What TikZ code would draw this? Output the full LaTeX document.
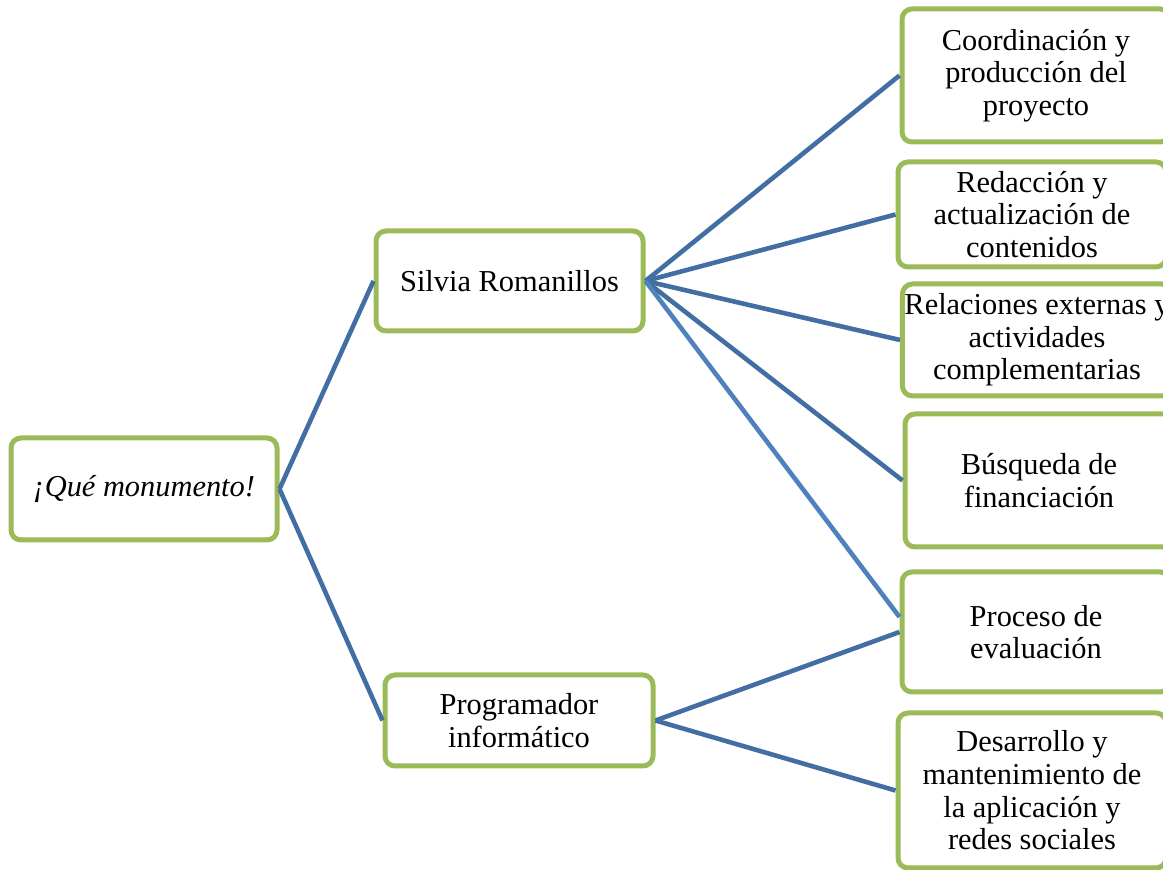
\documentclass[tikz,border=0pt]{standalone}
\usepackage{fontspec}
\setmainfont{Liberation Serif}
\definecolor{boxgreen}{HTML}{9BBB59}
\definecolor{linkblue}{HTML}{436EA4}
\definecolor{lightblue}{HTML}{4F81BD}

\begin{document}
\begin{tikzpicture}[x=0.5pt, y=-0.5pt,
    box/.style = {draw=boxgreen, line width=2.5pt, rounded corners=5pt, fill=white, align=center, minimum width=134pt, font=\fontsize{15.2}{16.3}\selectfont},
    link/.style = {draw=linkblue, line width=2.3pt}]
        \useasboundingbox (0,0) rectangle (1163,870);
        \clip (0,0) rectangle (1163,870);

        \node[box, minimum width=133pt, minimum height=51pt] (root) at (144,489) {\itshape ¡Qué monumento!};
        \node[box, minimum width=133.5pt, minimum height=50pt] (silvia) at (509.5,281) {Silvia Romanillos};
        \node[box, minimum height=45.5pt] (prog) at (519,720.5) {Programador\\informático};

        \node[box, minimum height=66.5pt] (coord) at (1036,75.5) {Coordinación y\\producción del\\proyecto};
        \node[box, minimum height=52.5pt] (redac) at (1032,214.5) {Redacción y\\actualización de\\contenidos};
        \node[box, minimum height=56pt, inner xsep=1pt] (relac) at (1037,340) {Relaciones externas y\\actividades\\complementarias};
        \node[box, minimum height=66.5pt] (busq) at (1039,480.5) {Búsqueda de\\financiación};
        \node[box, minimum height=60pt] (proc) at (1036,632) {Proceso de\\evaluación};
        \node[box, minimum height=77.5pt] (desa) at (1032,790.5) {Desarrollo y\\mantenimiento de\\la aplicación y\\redes sociales};

        \draw[link] (root.east) -- (silvia.west);
        \draw[link] (root.east) -- (prog.west);
        \draw[link] (silvia.east) -- (coord.west);
        \draw[link] (silvia.east) -- (redac.west);
        \draw[link] (silvia.east) -- (relac.west);
        \draw[link] (silvia.east) -- (busq.west);
        \draw[link, draw=lightblue] (silvia.east) -- ([yshift=7.5pt]proc.west);
        \draw[link] (prog.east) -- (proc.west);
        \draw[link] (prog.east) -- (desa.west);

    \end{tikzpicture}
\end{document}
